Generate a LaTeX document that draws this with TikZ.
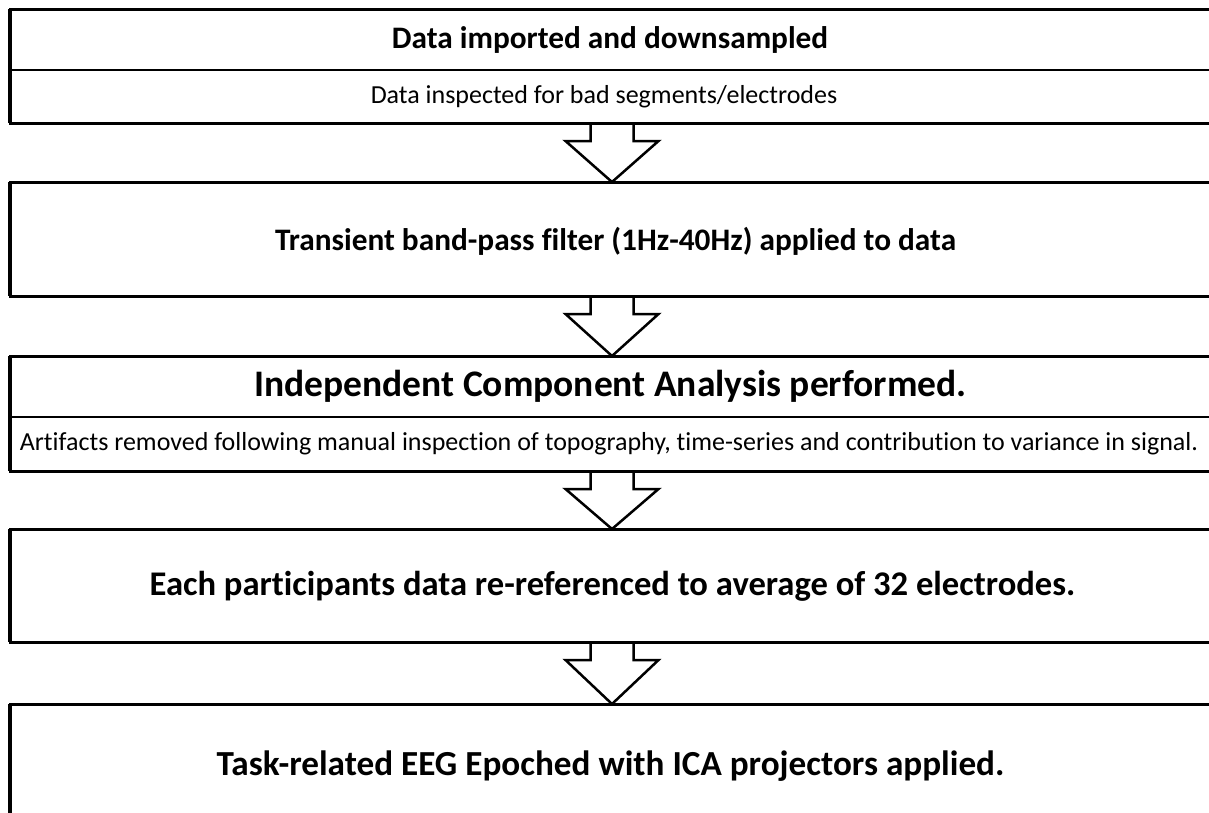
\documentclass[tikz,border=0pt]{standalone}
\usepackage{fontspec}
\setmainfont[Ligatures={NoCommon}]{Carlito}
\usetikzlibrary{calc}
\begin{document}
\begin{tikzpicture}[x=1pt,y=-1pt,
  box/.style={draw=black, line width=3pt, minimum width=1204pt, inner sep=0pt, outer sep=0pt},
  head/.style={font=\fontsize{#1}{34}\selectfont\bfseries, inner sep=0pt},
  head/.default=31.3,
  sub/.style={font=\fontsize{26}{30}\selectfont, inner sep=0pt},
  flow/.style={draw=black, line width=2.5pt, line join=miter}]
\useasboundingbox (0,0) rectangle (1209,812);
\clip (0,0) rectangle (1209,812);
% boxes
\node[box, minimum height=114pt] (b1) at (612,66) {};
\node[box, minimum height=114pt] (b2) at (612,239) {};
\node[box, minimum height=115pt] (b3) at (612,413.5) {};
\node[box, minimum height=113pt] (b4) at (612,585.5) {};
\node[box, minimum height=130pt] (b5) at (612,769) {};
% left borders slightly heavier
\foreach \b in {b1,b2,b3,b4,b5} \draw[line width=4pt] (\b.north west) -- (\b.south west);
% dividers
\coordinate (d1) at (0,70);
\coordinate (d3) at (0,417);
\draw[line width=2.5pt] (b1.west |- d1) -- (b1.east |- d1);
\draw[line width=2.5pt] (b3.west |- d3) -- (b3.east |- d3);
% texts
\node[head] (t1) at (610,40) {Data imported and downsampled};
\node[sub] (s1) at (604,97) {Data inspected for bad segments/electrodes};
\node[head] (t2) at (615.5,241) {Transient band-pass filter (1Hz-40Hz) applied to data};
\node[head=37.5] (t3) at (610.5,386) {Independent Component Analysis performed.};
\node[sub] (s3) at (609,444) {Artifacts removed following manual inspection of topography, time-series and contribution to variance in signal.};
\node[head=34.6] (t4) at (612.5,586) {Each participants data re-referenced to average of 32 electrodes.};
\node[head=35.2] (t5) at (610.5,766) {Task-related EEG Epoched with ICA projectors applied.};
% arrows
\foreach \a/\b in {b1/b2,b2/b3,b3/b4,b4/b5}{
  \draw[flow] ($(\a.south)+(-21.5,0)$) -- ++(0,18) -- ++(-25,0) -- (\b.north) -- ($(\a.south)+(46.5,18)$) -- ++(-25,0) -- ($(\a.south)+(21.5,0)$);
}
\end{tikzpicture}
\end{document}
